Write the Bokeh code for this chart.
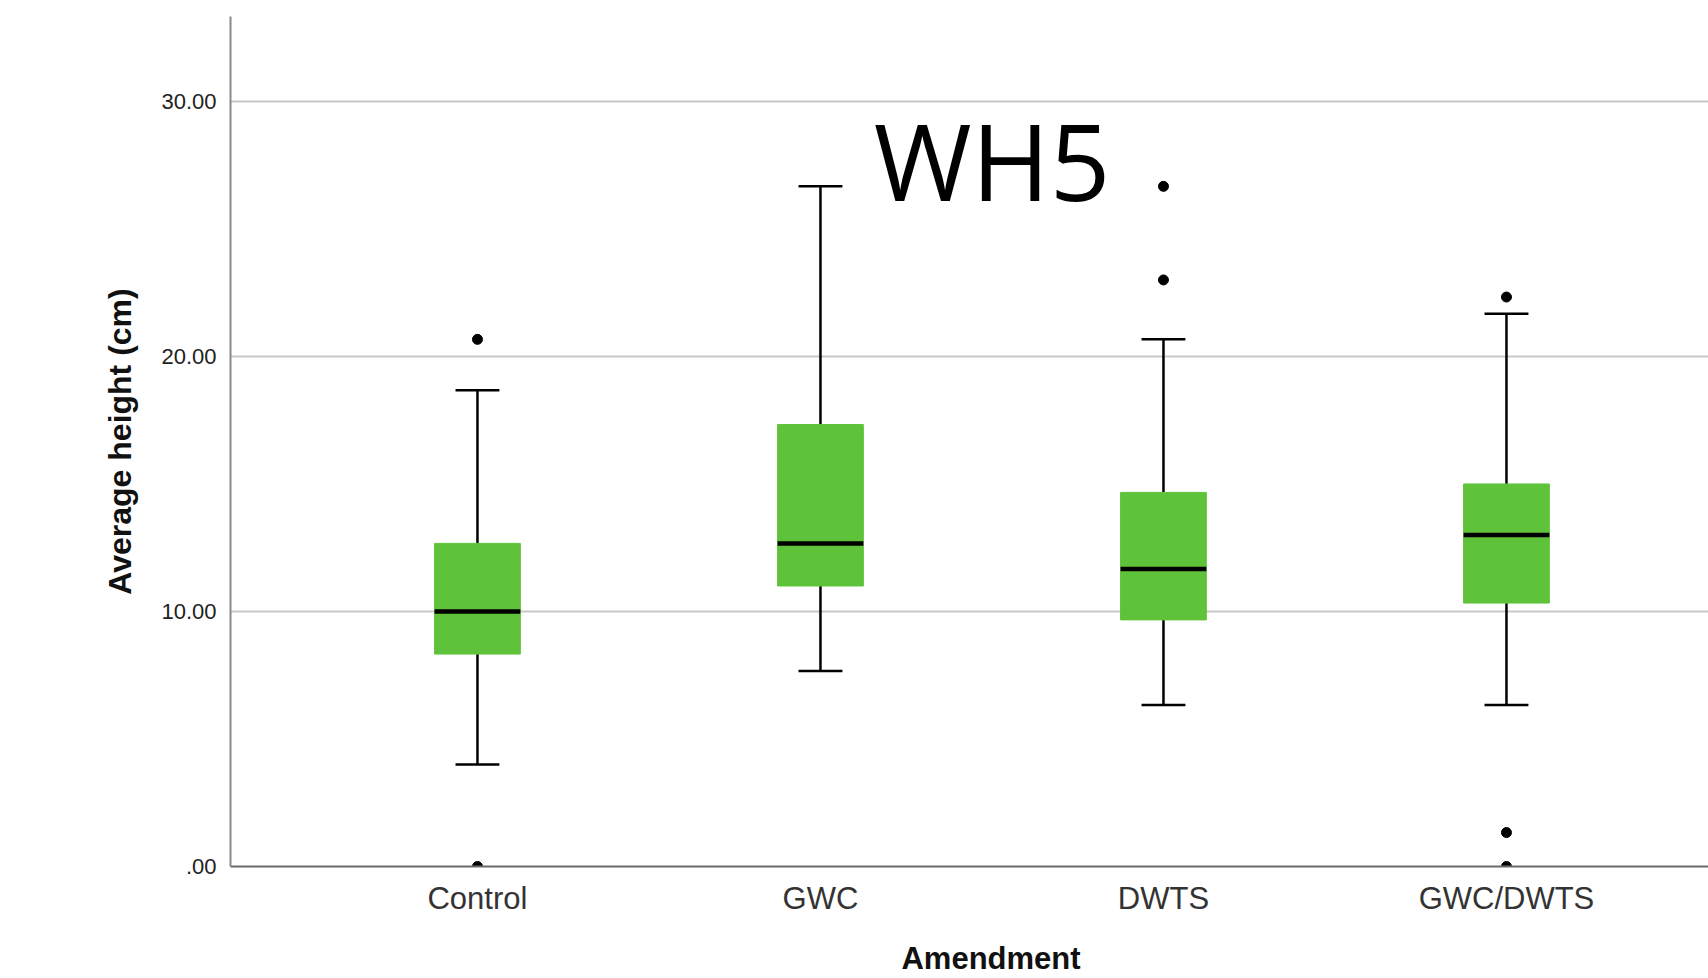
from bokeh.plotting import figure
from bokeh.models import ColumnDataSource, Range1d, FixedTicker, Label
from bokeh.embed import file_html
from bokeh.resources import INLINE

# ---- data ----
categories = ["Control", "GWC", "DWTS", "GWC/DWTS"]
lower_whisker = [4.0, 7.67, 6.33, 6.33]
q1 = [8.33, 11.0, 9.67, 10.33]
median = [10.0, 12.67, 11.67, 13.0]
q3 = [12.67, 17.33, 14.67, 15.0]
upper_whisker = [18.67, 26.67, 20.67, 21.67]
outlier_group = ["Control", "Control", "DWTS", "DWTS", "GWC/DWTS", "GWC/DWTS", "GWC/DWTS"]
outlier_value = [20.67, 0.0, 26.67, 23.0, 22.33, 1.33, 0.0]
y_ticks = [0, 10, 20, 30]
y_tick_labels = [".00", "10.00", "20.00", "30.00"]
title_text = "WH5"
x_title = "Amendment"
y_title = "Average height (cm)"

pos = {c: i + 1 for i, c in enumerate(categories)}
xs = [pos[c] for c in categories]
box_w = 0.25
cap_w = 0.128

src = ColumnDataSource(dict(
    x=xs, lw=lower_whisker, q1=q1, med=median, q3=q3, uw=upper_whisker,
    x0=[x - box_w / 2 for x in xs], x1=[x + box_w / 2 for x in xs],
    c0=[x - cap_w / 2 for x in xs], c1=[x + cap_w / 2 for x in xs],
))
out_src = ColumnDataSource(dict(x=[pos[g] for g in outlier_group], y=outlier_value))

p = figure(width=1708, height=978, output_backend="svg", toolbar_location=None,
           x_range=Range1d(0.28, 4.589), y_range=Range1d(0, 33.33),
           min_border_left=230, min_border_right=0, min_border_top=16, min_border_bottom=110)
p.outline_line_color = None
p.background_fill_color = "white"

# whiskers
p.segment(x0="x", y0="q3", x1="x", y1="uw", source=src, line_color="black", line_width=2.5)
p.segment(x0="x", y0="lw", x1="x", y1="q1", source=src, line_color="black", line_width=2.5)
p.segment(x0="c0", y0="uw", x1="c1", y1="uw", source=src, line_color="black", line_width=2.5)
p.segment(x0="c0", y0="lw", x1="c1", y1="lw", source=src, line_color="black", line_width=2.5)
# boxes
p.vbar(x="x", width=box_w, top="q3", bottom="q1", source=src,
       fill_color="#5EC33A", line_color="#5EC33A", line_width=1)
# medians
p.segment(x0="x0", y0="med", x1="x1", y1="med", source=src, line_color="black", line_width=4.5)
# outliers
p.scatter(x="x", y="y", source=out_src, size=10, color="black", marker="circle")

# axes
p.xgrid.visible = False
p.ygrid.grid_line_color = "#c8c8c8"
p.ygrid.grid_line_width = 2
p.ygrid.ticker = FixedTicker(ticks=y_ticks)

p.yaxis.ticker = FixedTicker(ticks=y_ticks)
p.yaxis.major_label_overrides = {t: l for t, l in zip(y_ticks, y_tick_labels)}
p.yaxis.axis_line_color = "#8a8a8a"
p.yaxis.axis_line_width = 2
p.yaxis.major_tick_line_color = None
p.yaxis.minor_tick_line_color = None
p.yaxis.major_label_text_font = "Liberation Sans"
p.yaxis.major_label_text_font_size = "22px"
p.yaxis.major_label_text_color = "#222222"
p.yaxis.major_label_standoff = 8
p.yaxis.axis_label = y_title
p.yaxis.axis_label_text_font = "Liberation Sans"
p.yaxis.axis_label_text_font_style = "bold"
p.yaxis.axis_label_text_font_size = "32px"
p.yaxis.axis_label_text_color = "#111111"
p.yaxis.axis_label_standoff = 20

p.xaxis.ticker = FixedTicker(ticks=xs)
p.xaxis.major_label_overrides = {x: c for x, c in zip(xs, categories)}
p.xaxis.axis_line_color = "#6a6a6a"
p.xaxis.axis_line_width = 2
p.xaxis.major_tick_line_color = None
p.xaxis.minor_tick_line_color = None
p.xaxis.major_label_text_font = "Liberation Sans"
p.xaxis.major_label_text_font_size = "31px"
p.xaxis.major_label_text_color = "#333333"
p.xaxis.major_label_standoff = 8
# non-breaking spaces nudge the centred title right, as in the reference
p.xaxis.axis_label = "\u00a0" * 5 + x_title
p.xaxis.axis_label_text_font = "Liberation Sans"
p.xaxis.axis_label_text_font_style = "bold"
p.xaxis.axis_label_text_font_size = "31px"
p.xaxis.axis_label_text_color = "#111111"
p.xaxis.axis_label_standoff = 22

p.add_layout(Label(x=2.5, y=27.7, text=title_text, text_font="Open Sans",
                   text_font_size="106px", text_color="black",
                   text_align="center", text_baseline="alphabetic"))

open("out.html", "w").write(file_html(p, INLINE))
